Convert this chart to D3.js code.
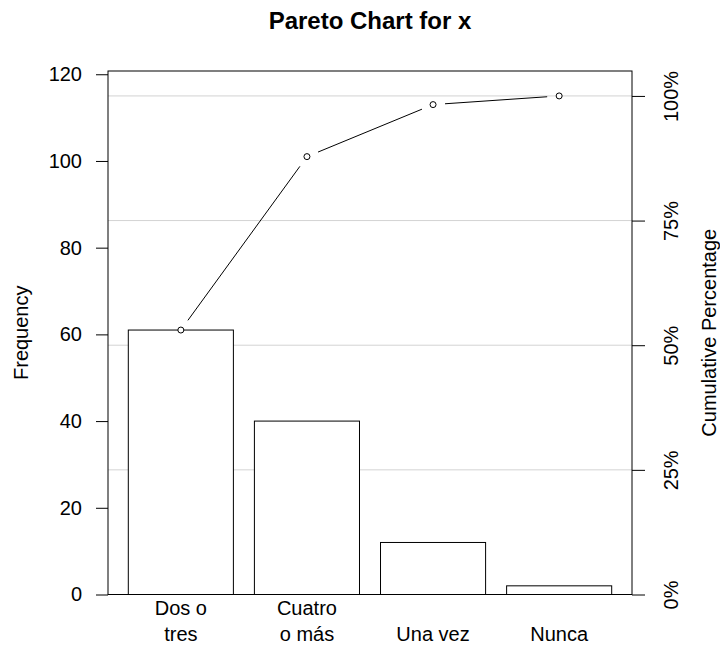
<!DOCTYPE html>
<html>
<head>
<meta charset="utf-8">
<script src="https://cdn.jsdelivr.net/npm/d3@7"></script>
<style>
  body { margin: 0; background: #fff; }
  text { font-family: "Liberation Sans", Arial, sans-serif; fill: #000; }
</style>
</head>
<body>
<svg id="chart" width="720" height="646"></svg>
<script>
// datos
var categories = [["Dos o", "tres"], ["Cuatro", "o más"], ["Una vez"], ["Nunca"]];
var counts = [61, 40, 12, 2];
var freqTicks = [0, 20, 40, 60, 80, 100, 120];
var pctTicks = [0, 25, 50, 75, 100];

var total = d3.sum(counts);
var cum = Array.from(d3.cumsum(counts));

var svg = d3.select("#chart");
// ojo: "top" es window.top, no usarlo como variable
var pLeft = 108, pRight = 632, pTop = 71, pBottom = 594.5;

// eje y: 0 .. total*1.05 (como qcc)
var y = d3.scaleLinear().domain([0, total * 1.05]).range([pBottom, pTop]);
var yPct = d3.scaleLinear().domain([0, 100]).range([y(0), y(total)]);
var x = d3.scaleBand().domain(d3.range(counts.length))
    .range([pLeft, pRight]).paddingInner(1 / 6).paddingOuter(0.161);

// lineas de grilla
svg.append("g").selectAll("line")
    .data(pctTicks)
    .enter().append("line")
    .attr("x1", pLeft).attr("x2", pRight)
    .attr("y1", function(d) { return yPct(d); })
    .attr("y2", function(d) { return yPct(d); })
    .attr("stroke", "#d3d3d3").attr("stroke-width", 1);

// barras
svg.append("g").selectAll("rect")
    .data(counts)
    .enter().append("rect")
    .attr("x", function(d, i) { return x(i); })
    .attr("y", function(d) { return y(d); })
    .attr("width", x.bandwidth())
    .attr("height", function(d) { return y(0) - y(d); })
    .attr("fill", "#fff").attr("stroke", "#000").attr("stroke-width", 1);

// caja
svg.append("rect")
    .attr("x", pLeft).attr("y", pTop)
    .attr("width", pRight - pLeft).attr("height", pBottom - pTop)
    .attr("fill", "none").attr("stroke", "#000").attr("stroke-width", 1);

// ejes
var yAxis = svg.append("g").attr("transform", "translate(" + pLeft + ",0)")
    .call(d3.axisLeft(y).tickValues(freqTicks).tickSize(12).tickPadding(14));
var yAxisR = svg.append("g").attr("transform", "translate(" + pRight + ",0)")
    .call(d3.axisRight(yPct).tickValues(pctTicks).tickSize(13).tickFormat(function(d) { return d + "%"; }));
[yAxis, yAxisR].forEach(function(a) {
  a.select(".domain").remove();
  a.selectAll("line").attr("stroke", "#000");
  a.selectAll("text").attr("font-size", 20).attr("fill", "#000")
      .style("font-family", "'Liberation Sans', Arial, sans-serif");
});
yAxisR.selectAll(".tick text")
    .attr("text-anchor", "middle").attr("dy", null).attr("x", null)
    .attr("transform", "translate(39,0) rotate(-90)")
    .attr("dominant-baseline", "central");

// etiquetas x
var xl = svg.append("g").selectAll("text")
    .data(categories)
    .enter().append("text")
    .attr("text-anchor", "middle").attr("font-size", 20)
    .attr("x", function(d, i) { return x(i) + x.bandwidth() / 2; });
xl.selectAll("tspan")
    .data(function(d) { return d; })
    .enter().append("tspan")
    .attr("x", function() { return d3.select(this.parentNode).attr("x"); })
    .attr("y", function(d, j, arr) { return arr.length == 1 ? 641 : 615 + j * 26; })
    .text(function(d) { return d; });

// linea acumulada (tipo "b": con huecos en los puntos)
var pts = cum.map(function(c, i) { return [x(i) + x.bandwidth() / 2, y(c)]; });
var gap = 12;
for (var i = 0; i < pts.length - 1; i++) {
  var a = pts[i], b = pts[i + 1];
  var dx = b[0] - a[0], dy = b[1] - a[1], len = Math.sqrt(dx * dx + dy * dy);
  svg.append("line")
      .attr("x1", a[0] + dx / len * gap).attr("y1", a[1] + dy / len * gap)
      .attr("x2", b[0] - dx / len * gap).attr("y2", b[1] - dy / len * gap)
      .attr("stroke", "#000").attr("stroke-width", 1);
}
svg.append("g").selectAll("circle")
    .data(pts)
    .enter().append("circle")
    .attr("cx", function(d) { return d[0]; })
    .attr("cy", function(d) { return d[1]; })
    .attr("r", 3)
    .attr("fill", "#fff").attr("stroke", "#000").attr("stroke-width", 1);

// titulos
svg.append("text")
    .attr("x", (pLeft + pRight) / 2).attr("y", 29)
    .attr("text-anchor", "middle").attr("font-size", 24).attr("font-weight", "bold")
    .text("Pareto Chart for x");
svg.append("text")
    .attr("transform", "translate(28," + (pTop + pBottom) / 2 + ") rotate(-90)")
    .attr("text-anchor", "middle").attr("font-size", 20)
    .text("Frequency");
svg.append("text")
    .attr("transform", "translate(716," + (pTop + pBottom) / 2 + ") rotate(-90)")
    .attr("text-anchor", "middle").attr("font-size", 20)
    .text("Cumulative Percentage");
</script>
</body>
</html>
